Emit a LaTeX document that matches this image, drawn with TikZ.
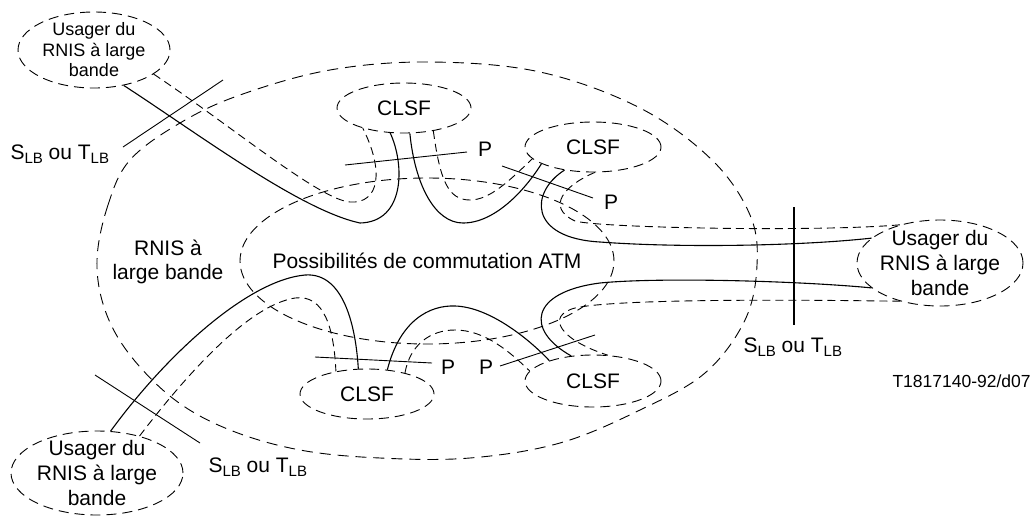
\documentclass[tikz,border=0pt]{standalone}
\usepackage{fontspec}
\setmainfont{Liberation Sans}
\usetikzlibrary{shapes.geometric}
\newcommand{\lb}{\raisebox{-4pt}{\fontsize{15}{15}\selectfont LB}}

\begin{document}
\begin{tikzpicture}[x=1pt, y=-1pt, line width=1pt]
    \tikzstyle{zone} = [ellipse, draw, dash pattern=on 10pt off 6pt, line width=0.9pt, inner sep=0pt]
    \tikzstyle{user} = [zone, align=center, inner sep=-4pt, font=\fontsize{21}{25}\selectfont]
    \tikzstyle{clsf} = [zone, minimum width=134pt, minimum height=50pt, font=\fontsize{21}{24}\selectfont]
    \tikzstyle{txt} = [inner sep=0pt, font=\fontsize{21}{24}\selectfont]
    \tikzstyle{link} = [line width=1.1pt]
    \tikzstyle{linkback} = [line width=0.9pt, dash pattern=on 8pt off 5pt]
    \tikzstyle{cut} = [line width=0.9pt]
    \useasboundingbox (0,0) rectangle (1034,515);

    % RNIS a large bande
    \draw [dash pattern=on 11pt off 7pt, line width=0.9pt] plot [smooth cycle, tension=0.6] coordinates {
        (97,260) (108,205) (130,160) (180,123) (240,95) (330,70) (430,62) (540,72) (640,108)
        (712,160) (750,215) (757,265) (745,320) (705,373) (640,410) (560,443) (470,458)
        (380,458) (300,450) (230,430) (175,400) (130,355) (105,310)};
    \node (rnis) [txt, align=center] at (168,261.5) {RNIS à\\large bande};

    \node (atm) [zone, minimum width=374pt, minimum height=166pt] at (427,261) {};
    \node (atmtext) [txt, anchor=base] at (427,268) {Possibilités de commutation ATM};

    \node (userA) [user, font=\fontsize{18}{20.5}\selectfont, minimum width=152pt, minimum height=76pt] at (94,50) {Usager du\\RNIS à large\\bande};
    \node (userB) [user, minimum width=166pt, minimum height=86pt] at (940,263) {Usager du\\RNIS à large\\bande};
    \node (userC) [user, minimum width=172pt, minimum height=84pt] at (97,473) {Usager du\\RNIS à large\\bande};

    \node (clsfA) [clsf] at (404,108) {CLSF};
    \node (clsfB) [clsf, minimum width=136pt] at (593,147) {CLSF};
    \node (clsfC) [clsf] at (367,394) {CLSF};
    \node (clsfD) [clsf, minimum width=136pt, minimum height=52pt] at (593,381) {CLSF};

    % points de reference
    \node (slbA) [txt, anchor=base west] at (10,159) {S\lb{} ou T\lb};
    \node (slbB) [txt, anchor=base west] at (743,352) {S\lb{} ou T\lb};
    \node (slbC) [txt, anchor=base west] at (208,472) {S\lb{} ou T\lb};
    \node (pA) [txt, anchor=base] at (485,156) {P};
    \node (pB) [txt, anchor=base] at (611,209) {P};
    \node (pC) [txt, anchor=base] at (448,374) {P};
    \node (pD) [txt, anchor=base] at (486,374) {P};
    \node (code) [txt, font=\fontsize{17.5}{20}\selectfont, anchor=base west] at (892,387) {T1817140-92/d07};

    \coordinate (cutA1) at (123,147);
    \coordinate (cutA2) at (223,80);
    \coordinate (cutB1) at (794,207);
    \coordinate (cutB2) at (794,325);
    \coordinate (cutC1) at (95,375);
    \coordinate (cutC2) at (200,443);
    \coordinate (cutP1) at (345,165);
    \coordinate (cutP2) at (467,152);
    \coordinate (cutP3) at (502,166);
    \coordinate (cutP4) at (593,198);
    \coordinate (cutP5) at (315,357);
    \coordinate (cutP6) at (432,363);
    \coordinate (cutP7) at (500,366);
    \coordinate (cutP8) at (595,335);

    \draw [cut] (cutA1) -- (cutA2);
    \draw [cut, line width=2.2pt] (cutB1) -- (cutB2);
    \draw [cut] (cutC1) -- (cutC2);
    \draw [cut] (cutP1) -- (cutP2);
    \draw [cut] (cutP3) -- (cutP4);
    \draw [cut] (cutP5) -- (cutP6);
    \draw [cut] (cutP7) -- (cutP8);

    % usager haut -> CLSF haut
    \draw [link] (userA.-50) .. controls (200,135) and (300,210) .. (360,223)
        .. controls (405,222) and (405,165) .. (clsfA.-119);
    \draw [linkback] (userA.-22) .. controls (230,125) and (320,200) .. (350,202)
        .. controls (380,204) and (384,170) .. (clsfA.-154);
    % CLSF haut -> CLSF droite
    \draw [link] (clsfA.-77) .. controls (415,185) and (435,223) .. (463,223)
        .. controls (495,223) and (525,190) .. (clsfB.-162);
    \draw [linkback] (clsfA.-38) .. controls (440,180) and (448,200) .. (470,200)
        .. controls (490,200) and (510,180) .. (clsfB.-169);
    % CLSF droite -> usager droite
    \draw [link] (clsfB.-141) .. controls (530,192) and (528,238) .. (600,242)
        .. controls (680,248) and (800,246) .. (userB.160);
    \draw [linkback] (clsfB.-86) .. controls (565,185) and (545,207) .. (575,221)
        .. controls (600,228) and (820,232) .. (userB.136);
    % usager droite -> CLSF bas droite
    \draw [link] (userB.-160) .. controls (800,281) and (660,277) .. (600,283)
        .. controls (530,292) and (525,330) .. (clsfD.131);
    \draw [linkback] (userB.-136) .. controls (820,300) and (620,298) .. (575,308)
        .. controls (545,316) and (560,340) .. (clsfD.60);
    % usager bas -> CLSF bas gauche
    \draw [link] (userC.72) .. controls (170,350) and (250,280) .. (305,275)
        .. controls (345,272) and (356,330) .. (clsfC.109);
    \draw [linkback] (userC.41) .. controls (190,370) and (250,305) .. (295,298)
        .. controls (325,294) and (334,330) .. (clsfC.144);
    % CLSF bas gauche -> CLSF bas droite
    \draw [link] (clsfC.50) .. controls (400,320) and (430,305) .. (455,306)
        .. controls (490,307) and (530,340) .. (clsfD.155);
    \draw [linkback] (clsfC.29) .. controls (410,345) and (430,330) .. (455,330)
        .. controls (485,330) and (510,352) .. (clsfD.171);
\end{tikzpicture}
\end{document}
